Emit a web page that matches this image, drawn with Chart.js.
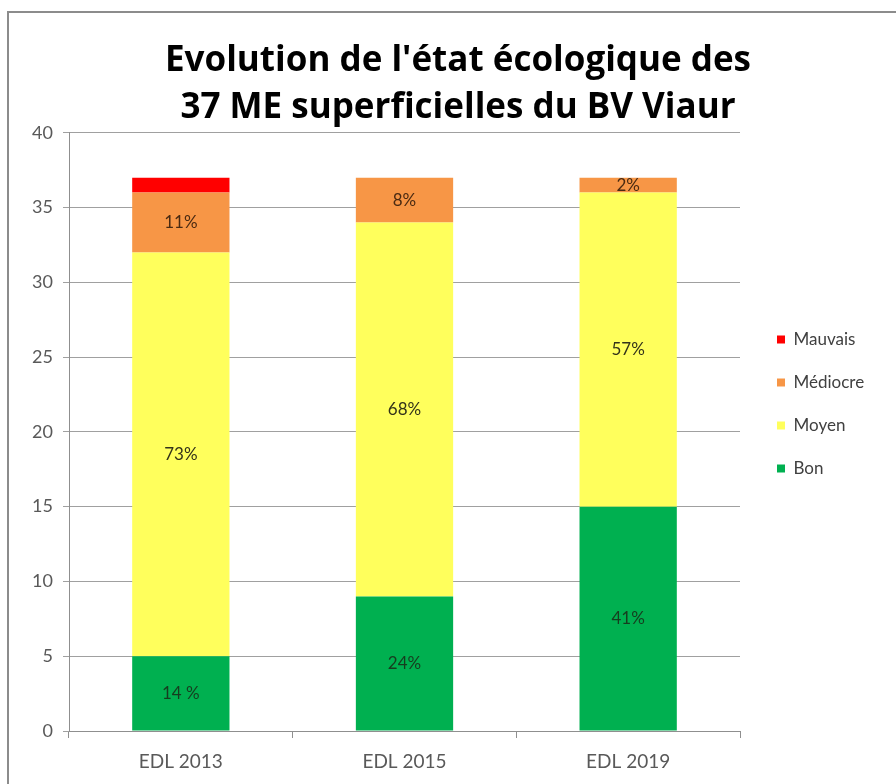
<!DOCTYPE html>
<html>
<head>
<meta charset="utf-8">
<script src="https://cdn.jsdelivr.net/npm/chart.js@4.4.0/dist/chart.umd.min.js"></script>
<style>
  html, body { margin: 0; padding: 0; background: #fff; overflow: hidden; }
  #wrap { position: relative; width: 896px; height: 784px; }
  #frame { position: absolute; left: 7px; top: 11px; width: 1000px; height: 1000px;
           border: 2px solid #8c8c8c; pointer-events: none; }
  canvas { position: absolute; left: 0; top: 0; }
</style>
</head>
<body>
<div id="wrap">
  <canvas id="myChart" width="896" height="784"></canvas>
  <div id="frame"></div>
</div>
<script>
// data
const categories = ['EDL 2013', 'EDL 2015', 'EDL 2019'];
const bon = [5, 9, 15];
const moyen = [27, 25, 21];
const mediocre = [4, 3, 1];
const mauvais = [1, 0, 0];
const bonPct = ['14 %', '24%', '41%'];
const moyenPct = ['73%', '68%', '57%'];
const mediocrePct = ['11%', '8%', '2%'];
const mauvaisPct = ['', '', ''];
const yTicks = [0, 5, 10, 15, 20, 25, 30, 35, 40];
const titleLines = ["Evolution de l'état écologique des", '37 ME superficielles du BV Viaur'];

const FONT = 'Lato, "Open Sans", sans-serif';

// percent labels in the middle of each bar segment
const barLabels = {
    id: 'barLabels',
    afterDatasetsDraw(chart) {
        const ctx = chart.ctx;
        ctx.save();
        ctx.font = '17px ' + FONT;
        ctx.textAlign = 'center';
        ctx.textBaseline = 'middle';
        chart.data.datasets.forEach((ds, i) => {
            const meta = chart.getDatasetMeta(i);
            meta.data.forEach((bar, j) => {
                const txt = ds.pctLabels[j];
                if (!txt) return;
                ctx.fillStyle = ds.labelColor;
                ctx.fillText(txt, bar.x, (bar.y + bar.base) / 2);
            });
        });
        ctx.restore();
    }
};

// fixed legend width and position, like the excel layout
const legendPlace = {
    id: 'legendPlace',
    beforeLayout(chart) {
        const lg = chart.legend;
        if (lg && !lg._fixed) {
            const fit = lg.fit.bind(lg);
            lg.fit = function () { fit(); this.width = 156; };
            lg._fixed = true;
        }
    },
    afterLayout(chart) {
        const lg = chart.legend;
        const w = lg.right - lg.left, h = lg.bottom - lg.top;
        lg.left = 777 - 26;
        lg.right = lg.left + w;
        lg.top = 305;
        lg.bottom = lg.top + h;
    }
};

const ctx = document.getElementById('myChart');
const chart = new Chart(ctx, {
    type: 'bar',
    data: {
        labels: categories,
        datasets: [{
            label: 'Bon',
            data: bon,
            pctLabels: bonPct,
            labelColor: '#163d1f',
            backgroundColor: '#00b050'
        }, {
            label: 'Moyen',
            data: moyen,
            pctLabels: moyenPct,
            labelColor: '#33331a',
            backgroundColor: '#ffff5c'
        }, {
            label: 'Médiocre',
            data: mediocre,
            pctLabels: mediocrePct,
            labelColor: '#4a2a12',
            backgroundColor: '#f79646'
        }, {
            label: 'Mauvais',
            data: mauvais,
            pctLabels: mauvaisPct,
            labelColor: '#333',
            backgroundColor: '#ff0000'
        }]
    },
    options: {
        responsive: false,
        animation: false,
        layout: {
            padding: { left: 20, right: 0, top: 0, bottom: 2 }
        },
        datasets: {
            bar: { categoryPercentage: 1, barPercentage: 0.435 }
        },
        scales: {
            x: {
                stacked: true,
                afterFit(scale) { scale.height = 51; },
                border: { display: true, color: '#8f8f8f' },
                grid: { offset: true, drawOnChartArea: false, drawTicks: true, tickLength: 7, color: '#8f8f8f' },
                ticks: { color: '#595959', padding: 12, font: { family: FONT, size: 19 } }
            },
            y: {
                stacked: true,
                min: 0,
                max: 40,
                afterBuildTicks(scale) { scale.ticks = yTicks.map(v => ({ value: v })); },
                afterFit(scale) { scale.width = 49; },
                border: { display: true, color: '#8f8f8f' },
                grid: { color: '#a0a0a0', tickLength: 6 },
                ticks: { color: '#595959', padding: 10, font: { family: FONT, size: 18 } }
            }
        },
        plugins: {
            title: {
                display: true,
                text: titleLines,
                color: '#000',
                font: { family: '"Open Sans", sans-serif', size: 35, weight: 'bold', lineHeight: 1.34 },
                padding: { top: 38, bottom: 1 }
            },
            legend: {
                position: 'right',
                align: 'start',
                reverse: true,
                labels: {
                    boxWidth: 8,
                    boxHeight: 8,
                    padding: 26,
                    color: '#404040',
                    font: { family: FONT, size: 17 }
                }
            },
            tooltip: { enabled: false }
        }
    },
    plugins: [barLabels, legendPlace]
});
</script>
</body>
</html>
